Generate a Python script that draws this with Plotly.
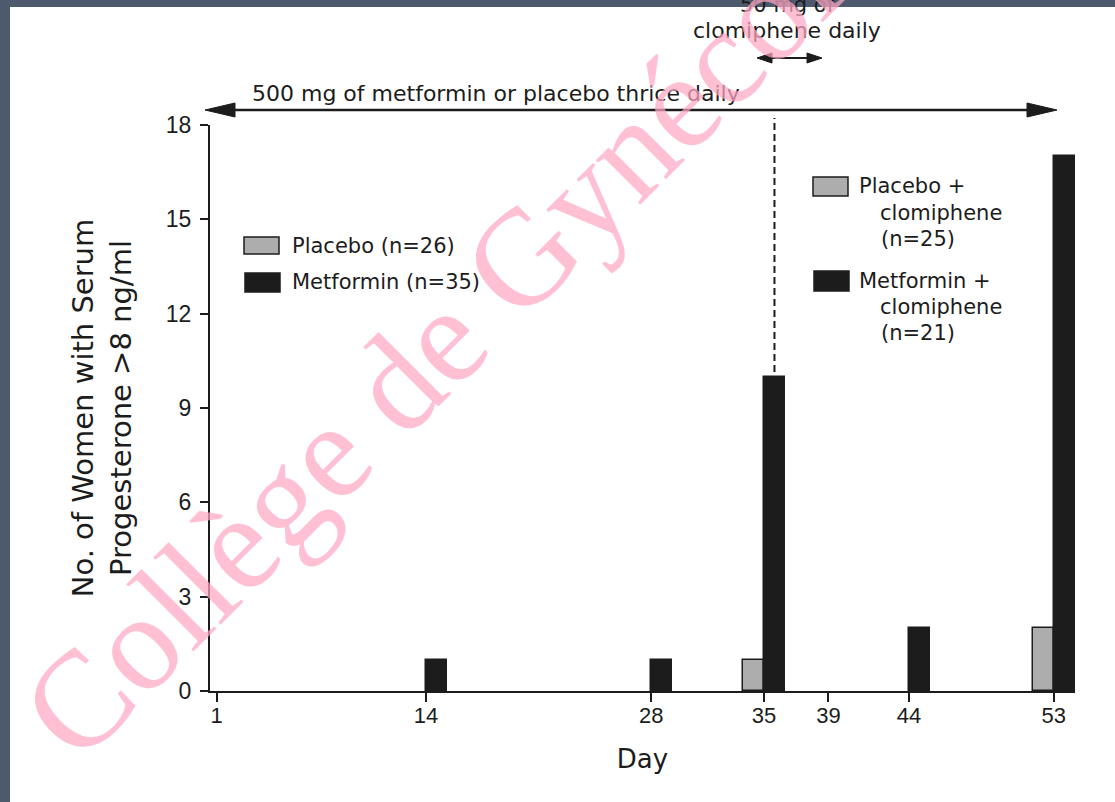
import plotly.graph_objects as go

# ---------------- data ----------------
days_pre = [14, 28, 35]
placebo_pre = [0, 0, 1]
metformin_pre = [1, 1, 10]
days_post = [44, 53]
placebo_clom = [0, 2]
metformin_clom = [2, 17]
x_ticks = [1, 14, 28, 35, 39, 44, 53]
y_ticks = [0, 3, 6, 9, 12, 15, 18]

# ---------------- geometry ----------------
W_FIG, H_FIG = 1115, 802
L, R, T, B = 210, 1075, 125, 691
PW, PH = R - L, B - T
BAR_W = 1.3

def px(x):
    return (x - L) / PW

def py(y):
    return (B - y) / PH

INK = "#1c1c1c"
GREY = "#adadad"
TXT = "DejaVu Sans"
NUM = "Liberation Sans"

fig = go.Figure()

def bars(xs, ys, color, offset, name):
    fig.add_trace(go.Bar(
        x=xs, y=[v if v else None for v in ys], name=name,
        width=BAR_W, offset=offset,
        marker=dict(color=color, line=dict(color=INK, width=1.5)),
        showlegend=False,
    ))

bars(days_pre, placebo_pre, GREY, -BAR_W, "Placebo (n=26)")
bars(days_pre, metformin_pre, INK, 0, "Metformin (n=35)")
bars(days_post, placebo_clom, GREY, -BAR_W, "Placebo + clomiphene (n=25)")
bars(days_post, metformin_clom, INK, 0, "Metformin + clomiphene (n=21)")

shapes = []
annotations = []

def rect(x0, y0, x1, y1, fill, line_w=0, layer="below"):
    shapes.append(dict(type="rect", xref="paper", yref="paper",
                       x0=px(x0), x1=px(x1), y0=py(y0), y1=py(y1),
                       fillcolor=fill, line=dict(width=line_w, color=INK),
                       layer=layer))

def text(x, y, s, size=22, anchor="center", font=TXT, angle=0, color=INK):
    annotations.append(dict(xref="paper", yref="paper", x=px(x), y=py(y),
                            text=s, showarrow=False, xanchor=anchor,
                            yanchor="middle", textangle=angle,
                            font=dict(family=font, size=size, color=color)))

def arrow(x0, x1, y, head_len, half_w, lw):
    shapes.append(dict(type="line", xref="paper", yref="paper",
                       x0=px(x0 + head_len * 0.6), x1=px(x1 - head_len * 0.6),
                       y0=py(y), y1=py(y), line=dict(color=INK, width=lw)))
    for tip, d in ((x0, 1), (x1, -1)):
        p = (f"M {px(tip)},{py(y)} L {px(tip + d * head_len)},{py(y - half_w)} "
             f"L {px(tip + d * head_len)},{py(y + half_w)} Z")
        shapes.append(dict(type="path", xref="paper", yref="paper", path=p,
                           fillcolor=INK, line=dict(color=INK, width=1)))

# dark frame of the slide
rect(0, 0, 10, H_FIG, "#4d596c")
rect(0, 0, W_FIG, 7, "#4d596c")

# dashed line at start of clomiphene
shapes.append(dict(type="line", xref="x", yref="paper",
                   x0=35 + BAR_W / 2, x1=35 + BAR_W / 2, y0=0, y1=py(118),
                   line=dict(color=INK, width=2, dash="7px,4px"), layer="below"))

# treatment arrows
arrow(205, 1057, 110, 30, 7, 2.5)
arrow(757, 822, 58, 15, 5, 2)
text(496, 93, "500 mg of metformin or placebo thrice daily", 22)
text(787, 5, "50 mg of", 21)
text(787, 31, "clomiphene daily", 22)

# left legend
rect(244, 237, 279, 254, GREY, 1.5)
rect(245, 273, 280, 292, INK, 1.5)
text(290, 246, "Placebo (n=26)", 21, "left")
text(290, 282, "Metformin (n=35)", 21, "left")

# right legend
rect(813, 177, 848, 196, GREY, 1.5)
rect(814, 271, 849, 291, INK, 1.5)
text(857, 186, "Placebo +", 21, "left")
text(878, 213, "clomiphene", 21, "left")
text(879, 239, "(n=25)", 21, "left")
text(857, 281, "Metformin +", 21, "left")
text(878, 307, "clomiphene", 21, "left")
text(879, 333, "(n=21)", 21, "left")

# watermark
annotations.append(dict(xref="paper", yref="paper", x=px(514), y=py(266),
                        text="Collège de Gynécologie", showarrow=False,
                        xanchor="center", yanchor="middle", textangle=-45,
                        font=dict(family="Liberation Serif", size=137,
                                  color="rgba(255,168,195,0.72)")))

fig.update_layout(
    width=W_FIG, height=H_FIG,
    margin=dict(l=L, r=W_FIG - R, t=T, b=H_FIG - B, pad=0),
    paper_bgcolor="white", plot_bgcolor="white",
    barmode="overlay", bargap=0,
    shapes=shapes, annotations=annotations,
    xaxis=dict(range=[(L - 200.5) / 16.1, (R - 200.5) / 16.1],
               tickmode="array", tickvals=x_ticks,
               ticks="outside", ticklen=9, tickwidth=2, tickcolor=INK,
               ticklabelstandoff=-5,
               showline=True, linecolor=INK, linewidth=2,
               showgrid=False, zeroline=False,
               tickfont=dict(family=NUM, size=22, color=INK),
               title=dict(text="Day", font=dict(family=TXT, size=26, color=INK),
                          standoff=22)),
    yaxis=dict(range=[0, 18], tickmode="array", tickvals=y_ticks,
               ticks="outside", ticklen=8, tickwidth=2, tickcolor=INK,
               ticklabelstandoff=4,
               showline=True, linecolor=INK, linewidth=2,
               showgrid=False, zeroline=False,
               tickfont=dict(family=NUM, size=23, color=INK),
               title=dict(text="No. of Women with Serum<br>Progesterone >8 ng/ml",
                          font=dict(family=TXT, size=29, color=INK),
                          standoff=26)),
)

fig.write_html("out.html", config={"displayModeBar": False},
               post_script="document.body.style.margin='0px';")
